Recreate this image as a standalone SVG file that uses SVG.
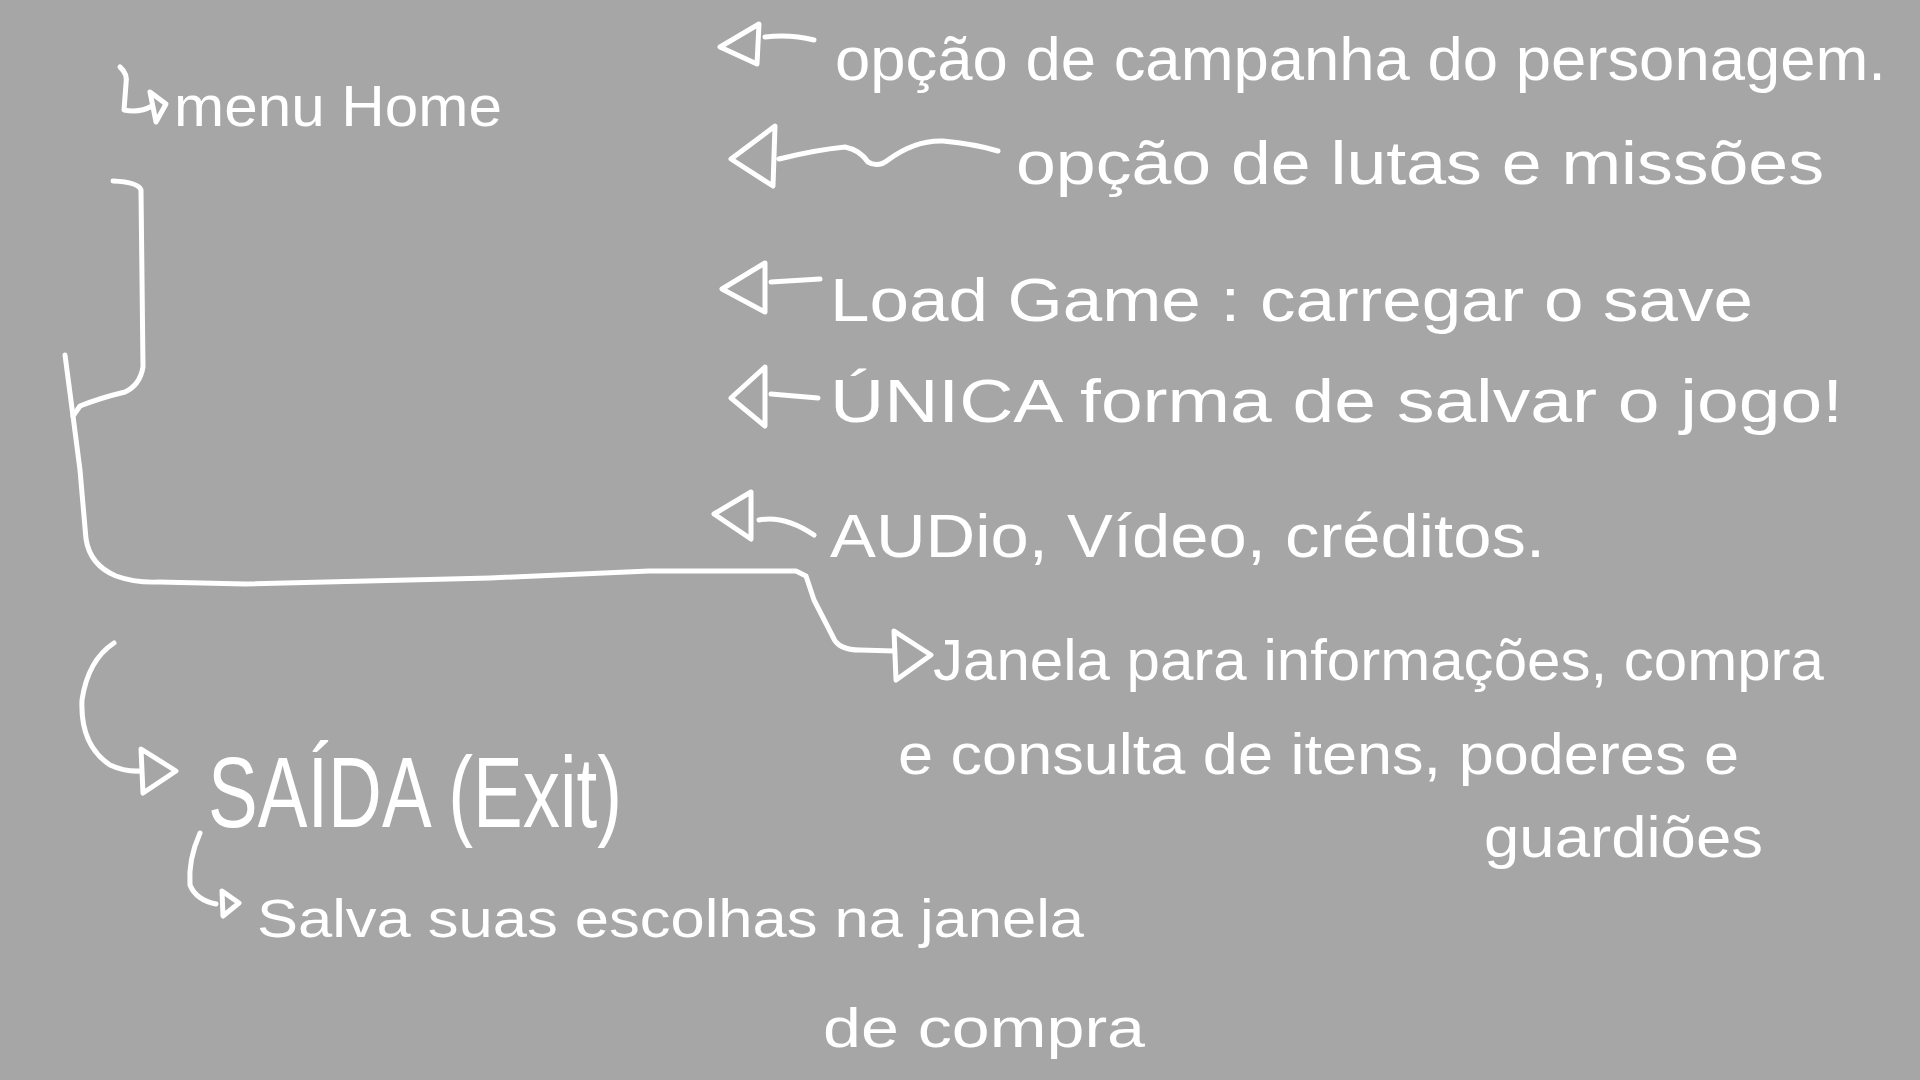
<svg xmlns="http://www.w3.org/2000/svg" width="1920" height="1080" viewBox="0 0 1920 1080">
<style>
.t{fill:#ffffff;font-family:"Liberation Sans","DejaVu Sans",sans-serif;}
.s{fill:none;stroke:#ffffff;stroke-width:5;stroke-linecap:round;stroke-linejoin:round;}
</style>
<rect x="0" y="0" width="1920" height="1080" fill="#a6a6a6"/>
<g id="connectors">
<path class="s" d="M113,181 Q138,182 141,190 L143,367 Q140,385 125,392 Q100,398 80,406 L73,416"/>
<path class="s" d="M65,355 L73,416 L80,470 L86,539 Q90,565 116,576 Q135,583 159,582 L245,584 L490,578 L649,571 L796,571 L806,576 L814,600 L833,637 Q838,650 860,650 L894,651"/>
<path class="s" d="M894,631 L931,655 L896,680 Z"/>
<path class="s" d="M114,643 Q88,660 82,700 Q80,745 110,765 Q125,772 141,771"/>
<path class="s" d="M141,749 L176,771 L143,793 Z"/>
<path class="s" d="M200,833 Q188,860 190,885 Q196,900 216,904"/>
<path class="s" d="M222,891 L239,903 L223,916 Z"/>
<path class="s" d="M120,67 Q128,74 126,84 L124,110 Q140,113 152,106"/>
<path class="s" d="M150,92 L166,104 L156,122 Z"/>
<path class="s" d="M759,24 L720,47 L757,64 Z M765,37 Q790,34 814,40"/>
<path class="s" stroke-width="6" d="M775,126 L731,159 L773,186 Z M779,159 Q815,150 845,147 Q860,150 868,162 Q878,168 888,160 Q915,140 943,141 Q975,144 998,151"/>
<path class="s" d="M765,263 L722,289 L765,312 Z M771,282 L820,279"/>
<path class="s" d="M765,367 L731,398 L765,426 Z M771,394 L818,398"/>
<path class="s" d="M751,492 L714,514 L751,539 Z M759,520 Q784,515 814,535"/>
</g>
<g id="menu-home"><text class="t" x="174" y="126" font-size="58" textLength="328" lengthAdjust="spacingAndGlyphs">menu Home</text></g>
<g id="campanha"><text class="t" x="835" y="80" font-size="62" textLength="1051" lengthAdjust="spacingAndGlyphs">opção de campanha do personagem.</text></g>
<g id="lutas"><text class="t" x="1016" y="184" font-size="62" textLength="808" lengthAdjust="spacingAndGlyphs">opção de lutas e missões</text></g>
<g id="load-game"><text class="t" x="830" y="321" font-size="62" textLength="923" lengthAdjust="spacingAndGlyphs">Load Game : carregar o save</text></g>
<g id="unica"><text class="t" x="830" y="422" font-size="62" textLength="1013" lengthAdjust="spacingAndGlyphs">ÚNICA forma de salvar o jogo!</text></g>
<g id="audio"><text class="t" x="830" y="557" font-size="62" textLength="715" lengthAdjust="spacingAndGlyphs">AUDio, Vídeo, créditos.</text></g>
<g id="janela">
<text class="t" x="933" y="680" font-size="58" textLength="891" lengthAdjust="spacingAndGlyphs">Janela para informações, compra</text>
<text class="t" x="898" y="774" font-size="58" textLength="841" lengthAdjust="spacingAndGlyphs">e consulta de itens, poderes e</text>
<text class="t" x="1484" y="857" font-size="58" textLength="279" lengthAdjust="spacingAndGlyphs">guardiões</text>
</g>
<g id="saida"><text class="t" x="208" y="827" font-size="100" textLength="414" lengthAdjust="spacingAndGlyphs">SAÍDA (Exit)</text></g>
<g id="salva">
<text class="t" x="257" y="937" font-size="54" textLength="827" lengthAdjust="spacingAndGlyphs">Salva suas escolhas na janela</text>
<text class="t" x="823" y="1047" font-size="56" textLength="322" lengthAdjust="spacingAndGlyphs">de compra</text>
</g>
</svg>
